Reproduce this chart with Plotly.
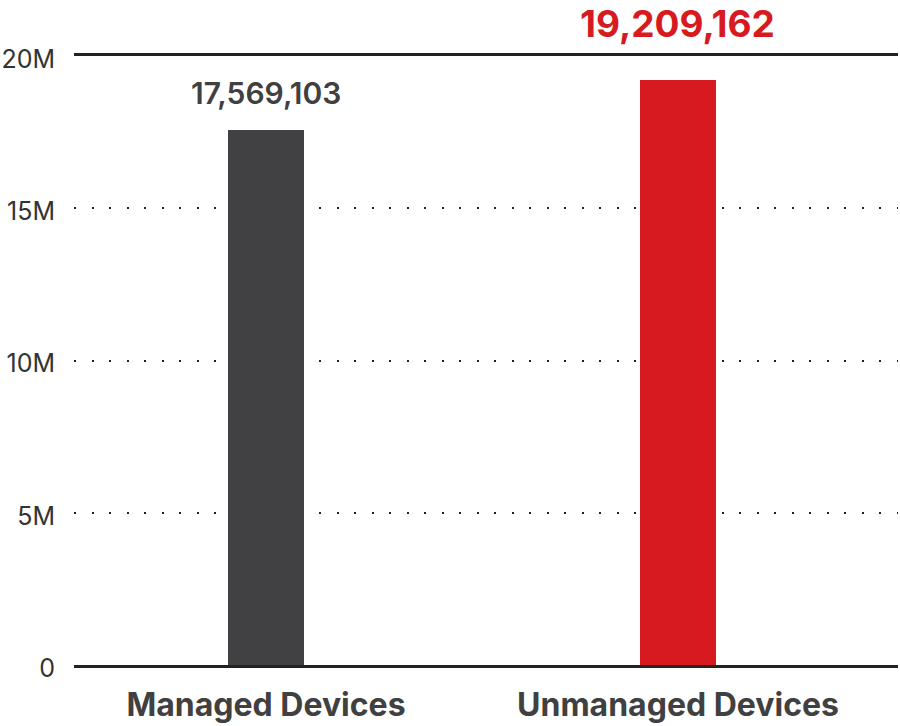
import plotly.graph_objects as go

categories = ["Managed Devices", "Unmanaged Devices"]
values = [17569103, 19209162]
bar_colors = ["#414143", "#d71920"]
label_texts = ["17,569,103", "19,209,162"]
tick_vals = [0, 5e6, 10e6, 15e6, 20e6]
tick_text = ["0", "5M", "10M", "15M", "20M"]

fig = go.Figure()
fig.add_trace(go.Bar(
    x=[0, 1], y=values, marker=dict(color=bar_colors, line=dict(width=0)),
    width=0.184, hoverinfo="skip",
))

# value labels
fig.add_annotation(x=0, y=values[0], text=label_texts[0], showarrow=False,
                   yanchor="bottom", yshift=17,
                   font=dict(family="Inter", size=30, weight=600, color="#404040"))
fig.add_annotation(x=1, y=values[1], text=label_texts[1], showarrow=False,
                   yanchor="bottom", yshift=32,
                   font=dict(family="Inter", size=37, weight=700, color="#d71920"))

fig.update_layout(
    width=900, height=726,
    margin=dict(l=74, r=2, t=56, b=61, autoexpand=False),
    paper_bgcolor="white", plot_bgcolor="white",
    showlegend=False,
    bargap=0,
)
fig.update_xaxes(
    range=[-0.466, 1.534],
    tickvals=[0, 1], ticktext=categories,
    tickfont=dict(family="Inter", size=32, weight=700, color="#404040"),
    showline=True, mirror=True, linecolor="#222222", linewidth=2.5,
    showgrid=False, ticks="", ticklabelstandoff=10, zeroline=False,
    automargin=False,
)
fig.update_yaxes(
    range=[0, 20e6],
    tickvals=tick_vals, ticktext=tick_text,
    tickfont=dict(family="Inter", size=25, weight=400, color="#333333"),
    showgrid=True, gridcolor="#222222", gridwidth=2.2, griddash="2px,15.5px",
    showline=False, zeroline=False, ticks="", ticklabelstandoff=18,
    ticklabelshift=3, automargin=False,
)
fig.write_html("out.html", config={"displayModeBar": False},
               post_script="document.body.style.margin='0';")
